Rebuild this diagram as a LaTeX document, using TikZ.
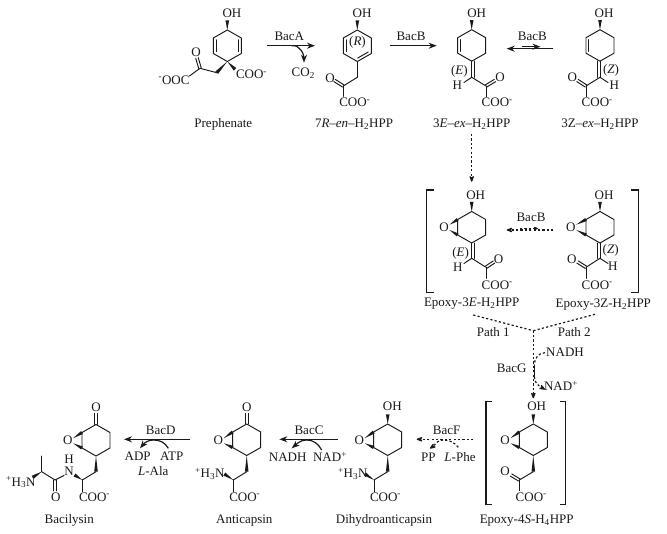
\documentclass[tikz,border=0pt]{standalone}
\usepackage{fontspec}
\setmainfont{Liberation Serif}
\usetikzlibrary{arrows.meta,calc}
\definecolor{ink}{HTML}{1A1A1A}
\tikzset{
  lab/.style={inner sep=0pt,outer sep=0pt,text=ink,font=\fontsize{13}{13}\selectfont,anchor=base},
  labw/.style={lab,anchor=base west},
  bnd/.style={draw=ink,line width=0.95pt,line cap=round},
  rxn/.style={draw=ink,line width=1.2pt,-{Stealth[length=8pt,width=6pt]}},
  rxnd/.style={rxn,-{Stealth[length=8pt,width=6pt,round]},dash pattern=on 2.2pt off 2.2pt},
  dsh/.style={draw=ink,line width=1.2pt,dash pattern=on 2.2pt off 2.2pt},
  brk/.style={draw=ink,line width=1.1pt},
}
\newcommand{\lab}[4]{\node[lab] (#1) at (#2,#3+4.3) {#4};}
\newcommand{\labw}[4]{\node[labw] (#1) at (#2,#3+4.3) {#4};}
\newcommand{\bnd}[2]{\draw[bnd] (#1) -- (#2);}
\newcommand{\wdg}[3][1.8pt]{\fill[ink] (#2) -- ($(#3)!#1!90:(#2)$) -- ($(#3)!#1!-90:(#2)$) -- cycle;}
\newcommand{\dbl}[3][2.8pt]{\draw[bnd] ($(#2)!.12!(#3)!#1!90:(#3)$) -- ($(#3)!.12!(#2)!#1!-90:(#2)$);}
\newcommand{\dbx}[3][3pt]{\draw[bnd] ($(#2)!#1!90:(#3)$) -- ($(#3)!#1!-90:(#2)$);}
\newcommand{\dbo}[2]{\draw[bnd] ($(#1)!1.3pt!90:(#2)$) -- ($(#2)!1.3pt!-90:(#1)$);\draw[bnd] ($(#1)!1.3pt!-90:(#2)$) -- ($(#2)!1.3pt!90:(#1)$);}
% ring: name, centre x, top y
\newcommand{\cyc}[3]{%
  \coordinate (#1t) at (#2,#3);
  \coordinate (#1ur) at (#2+14,#3+8);
  \coordinate (#1lr) at (#2+14,#3+23.5);
  \coordinate (#1b) at (#2,#3+31.5);
  \coordinate (#1ll) at (#2-14,#3+23.5);
  \coordinate (#1ul) at (#2-14,#3+8);
  \draw[bnd,line join=round] (#1t)--(#1ur)--(#1lr)--(#1b)--(#1ll)--(#1ul)--cycle;}
% OH on top of ring
\newcommand{\ohw}[3]{\wdg{#2,#3}{#2,#3-9.5}}
% epoxide
\newcommand{\epox}[2]{\coordinate (#1o) at (#2);
  \node[lab,anchor=center] (#1ox) at (#2) {O};
  \wdg[1.7pt]{$(#1ox)+(5.5,-2.6)$}{#1ul}
  \wdg[1.7pt]{$(#1ox)+(5.5,2.6)$}{#1ll}}
\begin{document}
\begin{tikzpicture}[x=1pt,y=-1pt]
\useasboundingbox (0,0) rectangle (667,534);
\fill[white] (0,0) rectangle (667,534);

% --- Prephenate
\cyc{p}{227.3}{30}
\dbl{pul}{pll}\dbl{plr}{pur}
\lab{pOH}{232}{13.5}{OH}\ohw{p}{227.3}{30}
\wdg{pb}{216.7,72.7}
\bnd{216.7,72.7}{200,68.3}
\dbo{200,68.3}{197,58}
\lab{pO}{196}{52}{O}
\bnd{200,68.3}{189.5,76}
\labw{pOOC}{158.5}{80}{\textsuperscript{-}OOC}
\wdg{pb}{235,69.3}
\labw{pCOO}{236}{74.5}{COO\textsuperscript{-}}
\lab{pName}{223.3}{123.3}{Prephenate}

% --- 7R-en
\cyc{e}{357.3}{30}
\dbl{eul}{ell}\dbl{eb}{elr}
\lab{eOH}{362}{13.5}{OH}\ohw{e}{357.3}{30}
\lab{eR}{357.5}{41.7}{(\textit{R})}
\bnd{eb}{357.3,77.3}
\bnd{357.3,77.3}{343.3,86}
\dbo{343.3,86}{334.5,80.5}
\lab{eO}{330}{78.3}{O}
\bnd{343.3,86}{343.3,96.5}
\labw{eCOO}{339.3}{102.5}{COO\textsuperscript{-}}
\lab{eName}{354}{123.3}{7\textit{R}–\textit{en}–H\textsubscript{2}HPP}

% --- 3E
\cyc{f}{471.7}{29.7}
\dbl{ful}{fll}
\lab{fOH}{476.7}{13.5}{OH}\ohw{f}{471.7}{29.7}
\bnd{fb}{471.7,77.3}
\dbx{fb}{471.7,77.3}
\lab{fE}{459.3}{70.7}{(\textit{E})}
\bnd{471.7,77.3}{464,82.5}
\lab{fH}{457.3}{85}{H}
\bnd{471.7,77.3}{486,86}
\dbo{486,86}{495,80.5}
\lab{fO}{500}{77.3}{O}
\bnd{486,86}{486,96.7}
\labw{fCOO}{481.7}{102.7}{COO\textsuperscript{-}}
\lab{fName}{471.7}{123.3}{3\textit{E}–\textit{ex}–H\textsubscript{2}HPP}

% --- 3Z
\cyc{g}{600}{29.7}
\dbl{gul}{gll}
\lab{gOH}{604}{13.5}{OH}\ohw{g}{600}{29.7}
\bnd{gb}{600,77.3}
\dbx{600,77.3}{gb}
\lab{gZ}{611}{69}{(\textit{Z})}
\bnd{600,77.3}{608,82.5}
\lab{gH}{614.3}{85}{H}
\bnd{600,77.3}{586,86}
\dbo{586,86}{577.5,80.5}
\lab{gO}{572.3}{77.3}{O}
\bnd{586,86}{586,96.7}
\labw{gCOO}{581.7}{102.7}{COO\textsuperscript{-}}
\lab{gName}{600}{123.3}{3Z–\textit{ex}–H\textsubscript{2}HPP}

% --- top arrows
\coordinate (a1s) at (267.3,45.7);\coordinate (a1e) at (315,45.7);
\draw[rxn] (a1s) -- (a1e);
\lab{a1}{289.3}{36}{BacA}
\lab{co2}{303.3}{72.7}{CO\textsubscript{2}}
\coordinate (a1c) at (291.7,45.7);\coordinate (a1d) at (304,62.7);
\draw[rxn] (a1c) to[out=10,in=90] (a1d);
\coordinate (a2s) at (390,45.7);\coordinate (a2e) at (436.7,45.7);
\draw[rxn] (a2s) -- (a2e);
\lab{a2}{411}{36}{BacB}
\coordinate (a3s) at (553.3,48.7);\coordinate (a3e) at (506.7,48.7);
\draw[rxn] (a3s) -- (a3e);
\coordinate (a4s) at (522.3,46.7);\coordinate (a4e) at (540.5,46.7);
\draw[rxn] (a4s) -- (a4e);
\lab{a3}{532.3}{36}{BacB}
\coordinate (a5s) at (471.7,134);\coordinate (a5e) at (471.7,181.7);
\draw[rxnd] (a5s) -- (a5e);

% --- Epoxy-3E
\draw[brk] (434,190) -- (426.7,190) -- (426.7,292.3) -- (434,292.3);
\cyc{h}{471.7}{211.5}
\lab{hOH}{475.7}{195}{OH}\ohw{h}{471.7}{211.5}
\epox{h}{444,227.3}
\bnd{hb}{471.7,258.3}
\dbx{hb}{471.7,258.3}
\lab{hE}{460.7}{252.3}{(\textit{E})}
\bnd{471.7,258.3}{464,263.5}
\lab{hH}{457.7}{267.3}{H}
\bnd{471.7,258.3}{486,267.3}
\dbo{486,267.3}{494,262}
\lab{hO}{498.5}{259}{O}
\bnd{486,267.3}{486,278.3}
\labw{hCOO}{481.7}{285}{COO\textsuperscript{-}}
\lab{hName}{471.7}{302.7}{Epoxy-3\textit{E}-H\textsubscript{2}HPP}

% --- Epoxy-3Z
\draw[brk] (631,190) -- (638.3,190) -- (638.3,292.3) -- (631,292.3);
\cyc{k}{600}{211.5}
\lab{kOH}{604}{195}{OH}\ohw{k}{600}{211.5}
\epox{k}{570.7,227.3}
\bnd{kb}{600,258.3}
\dbx{600,258.3}{kb}
\lab{kZ}{610.7}{249}{(\textit{Z})}
\bnd{600,258.3}{608,263.5}
\lab{kH}{612.7}{266.7}{H}
\bnd{600,258.3}{586,267.3}
\dbo{586,267.3}{577.5,262}
\lab{kO}{571.7}{259.3}{O}
\bnd{586,267.3}{586,278.3}
\labw{kCOO}{581.7}{285}{COO\textsuperscript{-}}
\lab{kName}{603.3}{303}{Epoxy-3Z-H\textsubscript{2}HPP}

\lab{b1}{531}{217.3}{BacB}
\coordinate (b1s) at (553.3,230);\coordinate (b1e) at (506.7,230);
\draw[rxnd] (b1s) -- (b1e);
\coordinate (b2s) at (520,228.5);\coordinate (b2e) at (538,228.5);
\draw[draw=ink,line width=1pt,dash pattern=on 2.2pt off 2.2pt,-{Stealth[length=6pt,width=4.5pt,round]}] (b2s) -- (b2e);

% --- paths
\coordinate (j) at (533.3,330.7);
\coordinate (j1) at (473.3,315);\coordinate (j2) at (595,314.3);\coordinate (j3) at (533.3,398.3);
\draw[dsh] (j1) -- (j);
\draw[dsh] (j2) -- (j);
\draw[rxnd] (j) -- (j3);
\lab{p1}{493.3}{332.7}{Path 1}
\lab{p2}{574.3}{332.7}{Path 2}
\lab{gNADH}{565}{352.7}{NADH}
\lab{gNAD}{561}{386.7}{NAD\textsuperscript{+}}
\lab{bG}{511.7}{368.3}{BacG}
\coordinate (c1) at (545,352.7);\coordinate (c2) at (534.3,365);\coordinate (c3) at (534.3,376.7);\coordinate (c4) at (545,389.5);
\draw[dsh] (c1) to[out=180,in=90] (c2);
\draw[bnd] (c2) -- (c3);
\draw[rxnd] (c3) to[out=-90,in=150] (c4);

% --- Epoxy-4S
\draw[brk] (491.7,401.7) -- (486,401.7) -- (486,504.3) -- (491.7,504.3);
\draw[brk] (560,401.7) -- (565.7,401.7) -- (565.7,504.3) -- (560,504.3);
\cyc{m}{533.3}{424}
\lab{mOH}{536.7}{406.7}{OH}\ohw{m}{533.3}{424}
\epox{m}{505,440.7}
\wdg{mb}{533.3,471.7}
\bnd{533.3,471.7}{519.3,480}
\dbo{519.3,480}{511,475}
\lab{mO}{505}{471.7}{O}
\bnd{519.3,480}{519.3,490.7}
\labw{mCOO}{515.7}{496.7}{COO\textsuperscript{-}}
\lab{mName}{526.7}{519.3}{Epoxy-4\textit{S}-H\textsubscript{4}HPP}

% --- BacF
\coordinate (f1) at (473.3,439.3);\coordinate (f2) at (416.7,439.3);
\draw[rxnd] (f1) -- (f2);
\lab{bF}{446.7}{430.7}{BacF}
\lab{pp}{428.3}{457.7}{PP}
\lab{lphe}{460}{457.7}{\textit{L}-Phe}
\coordinate (f3) at (458.3,447.3);\coordinate (f4) at (430,448.5);
\draw[rxnd] (f3) to[out=130,in=0] (443,440) to[out=180,in=35] (f4);

% --- Dihydroanticapsin
\cyc{n}{387.7}{424}
\lab{nOH}{392.3}{406.7}{OH}\ohw{n}{387.7}{424}
\epox{n}{359.3,440.7}
\wdg{nb}{387.7,471.7}
\bnd{387.7,471.7}{374,480}
\wdg{374,480}{365,474}
\labw{nN}{338}{473.3}{\textsuperscript{+}H\textsubscript{3}N}
\bnd{374,480}{374,491.7}
\labw{nCOO}{370}{496.7}{COO\textsuperscript{-}}
\lab{nName}{384}{519.3}{Dihydroanticapsin}

% --- BacC
\coordinate (d1) at (337.7,439.3);\coordinate (d2) at (279.3,439.3);
\draw[rxn] (d1) -- (d2);
\lab{bC}{309}{430.7}{BacC}
\lab{cNADH}{287.7}{457.7}{NADH}
\lab{cNAD}{330}{457.7}{NAD\textsuperscript{+}}
\coordinate (d3) at (321.7,450);\coordinate (d4) at (291.7,448.3);
\draw[rxn] (d3) to[out=120,in=0] (306.7,440) to[out=180,in=40] (d4);

% --- Anticapsin
\cyc{q}{246.7}{424}
\dbo{246.7,424}{246.7,413.3}
\lab{qO}{246.7}{407.3}{O}
\epox{q}{218.3,440.7}
\wdg{qb}{246.7,471.7}
\bnd{246.7,471.7}{233.3,480}
\wdg{233.3,480}{224.3,474}
\labw{qN}{195}{473.3}{\textsuperscript{+}H\textsubscript{3}N}
\bnd{233.3,480}{233.3,491.7}
\labw{qCOO}{229.3}{496.7}{COO\textsuperscript{-}}
\lab{qName}{244.3}{519.3}{Anticapsin}

% --- BacD
\coordinate (e1) at (190,439.3);\coordinate (e2) at (124,439.3);
\draw[rxn] (e1) -- (e2);
\lab{bD}{160.7}{430.7}{BacD}
\lab{adp}{137.7}{456.7}{ADP}
\lab{atp}{171.7}{456.7}{ATP}
\lab{lala}{153.3}{471.7}{\textit{L}-Ala}
\coordinate (e3) at (168.3,448.3);\coordinate (e4) at (140,448.3);
\draw[rxn] (e3) to[out=120,in=0] (153.5,440) to[out=180,in=50] (e4);

% --- Bacilysin
\cyc{r}{96}{424.5}
\dbo{96,424.5}{96,413.3}
\lab{rO}{96}{407.3}{O}
\epox{r}{67.7,440.7}
\wdg{rb}{96,471.7}
\bnd{96,471.7}{82.3,480}
\wdg{82.3,480}{74.5,475}
\lab{rN}{69}{471}{N}
\lab{rHn}{69}{459.3}{H}
\bnd{82.3,480}{82.3,491.7}
\labw{rCOO}{79}{496.7}{COO\textsuperscript{-}}
\bnd{64,475.5}{55,480}
\dbo{55,480}{55,491}
\lab{rO2}{55.7}{496.7}{O}
\bnd{55,480}{41.7,471.7}
\bnd{41.7,471.7}{41.7,456}
\wdg{41.7,471.7}{32.7,477.3}
\labw{rN2}{6}{481.7}{\textsuperscript{+}H\textsubscript{3}N}
\lab{rName}{69.3}{519.3}{Bacilysin}
\end{tikzpicture}
\end{document}
